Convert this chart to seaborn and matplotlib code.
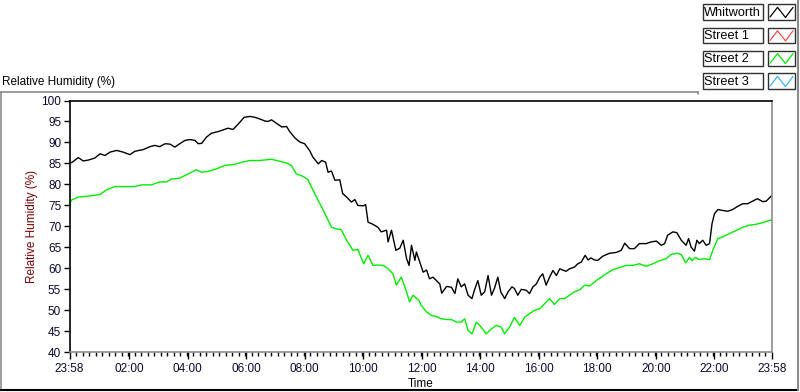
import numpy as np
import pandas as pd
import matplotlib
matplotlib.use("Agg")
import matplotlib.pyplot as plt
from matplotlib.lines import Line2D
from matplotlib.patches import Rectangle
import seaborn as sns

# ---------------- data (minutes after 23:58, relative humidity %) ----------------
whit_t = [0, 4.5, 18, 28, 38.5, 52, 62.5, 72.7, 83, 96.7, 110, 124, 134, 151, 165, 175, 185,
          196, 206, 216, 226, 237, 247, 257, 264, 271, 281, 291, 305, 315, 325, 335, 346, 358,
          370, 380, 390, 401, 407, 414, 424, 435, 445, 452, 462, 472, 482, 492, 499, 510, 517,
          525, 530, 537, 544, 554, 560, 568, 578, 585, 591, 602, 607, 612, 622, 632, 639, 650,
          653, 660, 669, 677, 684, 691, 696, 701, 708, 711, 718, 725, 732, 738, 745, 752, 759,
          763, 773, 783, 790, 796, 803, 810, 817, 825, 830, 837, 844, 851, 858, 865, 871, 878,
          884, 892, 899, 907, 912, 919, 926, 936, 943, 950, 957, 964, 970, 977, 984, 991, 998,
          1005, 1011, 1018, 1025, 1035, 1042, 1049, 1057, 1063, 1069, 1076, 1083, 1093, 1107,
          1121, 1131, 1138, 1148, 1158, 1168, 1182, 1192, 1203, 1213, 1220, 1226, 1237, 1245,
          1254, 1264, 1269, 1274, 1281, 1286, 1291, 1298, 1305, 1312, 1317, 1322, 1329, 1339,
          1349, 1359, 1370, 1380, 1390, 1400, 1410, 1421, 1428, 1440]
whit_v = [85.3, 85.2, 86.4, 85.6, 85.8, 86.3, 87.3, 86.9, 87.7, 88.1, 87.7, 87.1, 87.9, 88.3,
          89.0, 89.3, 89.0, 89.7, 89.6, 88.9, 89.7, 90.5, 90.7, 90.5, 89.7, 89.8, 91.3, 92.2,
          92.6, 93.0, 93.4, 93.1, 94.4, 96.0, 96.2, 96.0, 95.6, 95.1, 95.0, 95.4, 94.6, 93.7,
          93.8, 92.5, 91.1, 90.1, 89.7, 88.1, 86.5, 84.9, 85.7, 85.3, 82.9, 83.2, 81.0, 81.1,
          77.8, 77.0, 75.8, 76.4, 75.0, 74.9, 75.2, 71.0, 70.5, 69.8, 68.7, 69.1, 66.3, 69.1,
          64.3, 64.8, 66.7, 62.3, 60.7, 65.5, 61.9, 63.9, 61.5, 59.1, 59.6, 57.5, 57.9, 57.1,
          56.3, 54.1, 55.7, 55.5, 54.0, 57.5, 55.6, 56.3, 53.6, 52.8, 54.8, 57.1, 53.6, 54.4,
          58.3, 53.6, 55.2, 57.9, 54.4, 52.8, 54.4, 55.6, 55.2, 53.6, 55.0, 54.8, 54.0, 55.6,
          56.3, 57.9, 58.7, 56.0, 57.9, 59.5, 58.3, 59.9, 59.6, 59.3, 59.9, 60.3, 61.1, 61.5,
          63.1, 62.0, 62.5, 62.0, 61.9, 62.9, 63.6, 63.8, 64.3, 66.0, 64.7, 64.7, 65.9, 65.9,
          66.3, 66.5, 65.5, 65.9, 67.9, 68.7, 68.5, 66.7, 65.5, 67.1, 65.1, 64.1, 66.7, 65.9,
          66.7, 65.5, 65.9, 70.6, 73.0, 74.0, 73.8, 73.6, 74.0, 74.8, 75.4, 75.4, 76.0, 76.6,
          75.9, 76.0, 77.4]

st2_t = [0, 4.5, 18, 38.5, 62.5, 76, 93, 123, 134, 148, 168, 185, 199, 209, 226, 243, 260,
         271, 284, 301, 318, 339, 353, 370, 390, 414, 428, 445, 455, 465, 479, 489, 496, 506,
         517, 527, 537, 547, 557, 568, 581, 591, 603, 612, 622, 632, 643, 653, 663, 670, 680,
         691, 697, 704, 716, 721, 732, 742, 752, 762, 773, 783, 793, 803, 810, 817, 825, 834,
         844, 854, 865, 875, 885, 892, 902, 912, 923, 933, 943, 953, 964, 974, 984, 994, 1005,
         1015, 1025, 1035, 1046, 1056, 1066, 1080, 1090, 1100, 1114, 1127, 1141, 1155, 1168,
         1182, 1196, 1209, 1223, 1233, 1245, 1254, 1263, 1271, 1276, 1283, 1291, 1302, 1312,
         1320, 1329, 1339, 1353, 1366, 1380, 1394, 1407, 1421, 1440]
st2_v = [75.4, 76.3, 77.0, 77.2, 77.6, 78.7, 79.5, 79.5, 79.5, 79.9, 79.9, 80.6, 80.6, 81.3,
         81.5, 82.5, 83.5, 82.9, 83.1, 83.7, 84.5, 84.8, 85.3, 85.7, 85.7, 86.0, 85.6, 85.1,
         84.5, 82.5, 81.9, 81.1, 79.4, 77.0, 74.6, 72.2, 69.8, 69.4, 69.2, 66.7, 64.3, 64.5,
         61.1, 63.1, 60.7, 60.8, 60.7, 59.9, 58.7, 56.0, 57.9, 54.4, 52.0, 53.6, 52.4, 51.2,
         49.6, 48.8, 48.5, 48.0, 47.8, 47.8, 47.2, 47.2, 48.0, 45.2, 44.4, 47.2, 46.0, 44.4,
         45.6, 46.4, 46.0, 44.4, 46.0, 48.3, 46.4, 48.4, 49.2, 50.0, 50.4, 51.6, 52.8, 51.4,
         52.8, 52.8, 53.6, 54.4, 54.9, 56.0, 55.8, 57.1, 57.9, 58.7, 59.7, 60.2, 60.7, 60.7,
         61.1, 60.5, 61.1, 61.8, 62.3, 63.3, 63.6, 63.3, 61.3, 62.6, 61.8, 62.6, 62.1, 62.3,
         62.1, 64.7, 67.1, 67.5, 68.3, 69.0, 69.8, 70.3, 70.5, 70.9, 71.6]

# Street 1 and Street 3 have no visible data in the chart
st1_t, st1_v = [], []
st3_t, st3_v = [], []

series_names = ["Whitworth", "Street 1", "Street 2", "Street 3"]
series_colors = ["#000000", "#ff4a4a", "#00ee00", "#3ab4f2"]

tick_pos = [0, 122, 242, 362, 482, 602, 722, 842, 962, 1082, 1202, 1322, 1440]
tick_labels = ["23:58", "02:00", "04:00", "06:00", "08:00", "10:00", "12:00", "14:00",
               "16:00", "18:00", "20:00", "22:00", "23:58"]
y_ticks = list(range(40, 101, 5))

# ---------------- build long table ----------------
frames = []
for name, t, v in [("Whitworth", whit_t, whit_v), ("Street 1", st1_t, st1_v),
                   ("Street 2", st2_t, st2_v), ("Street 3", st3_t, st3_v)]:
    if len(t):
        frames.append(pd.DataFrame({"Time": t, "RH": v, "Series": name}))
df = pd.concat(frames, ignore_index=True)

sns.set_style("white")
plt.rcParams["font.family"] = ["Liberation Sans", "DejaVu Sans"]

W, H = 800, 392
fig = plt.figure(figsize=(W / 100, H / 100), dpi=100)

def fx(px):
    return px / W

def fy(py):
    return 1 - py / H

AX_L, AX_R = 69.5, 772
ax = fig.add_axes([fx(AX_L), fy(352.3), fx(AX_R) - fx(AX_L), fy(100.5) - fy(352.3)])

palette = dict(zip(series_names, series_colors))
sns.lineplot(data=df, x="Time", y="RH", hue="Series", palette=palette, ax=ax,
             linewidth=1.0, legend=False, estimator=None, sort=False)

ax.set_xlim(0, 1440)
ax.set_ylim(40, 100)
ax.set_yticks(y_ticks)
ax.set_yticklabels([str(v) for v in y_ticks])
ax.set_xticks(tick_pos)
ax.set_xticklabels(tick_labels)
ax.set_xticks(np.linspace(0, 1440, 109), minor=True)

lab_col = "#0a0a30"
ax.tick_params(axis="y", which="major", direction="out", length=4, width=1, color="black",
               labelsize=8.5, labelcolor=lab_col, pad=2, left=True)
ax.tick_params(axis="x", which="major", direction="out", length=5, width=1, color="black",
               labelsize=8.5, labelcolor=lab_col, pad=3, bottom=True)
ax.tick_params(axis="x", which="minor", direction="out", length=3, width=1, color="black",
               bottom=True)

for side in ["left", "top"]:
    ax.spines[side].set_color("black")
    ax.spines[side].set_linewidth(1.2)
for side in ["right", "bottom"]:
    ax.spines[side].set_color("#8c8c8c")
    ax.spines[side].set_linewidth(1.2)
ax.grid(False)

ax.set_xlabel("Time", fontsize=8.5, color="black", labelpad=2)
ax.set_ylabel("Relative Humidity (%)", fontsize=8.5, color="#7a0000")
ax.yaxis.set_label_coords((38 - AX_L) / (AX_R - AX_L), 0.5)

# title
fig.text(fx(2), fy(82), "Relative Humidity (%)", fontsize=8.5, color="black",
         ha="left", va="center")

# outer frame lines
frame_col = "#8c8c8c"
fig.add_artist(Line2D([fx(0), fx(698)], [fy(92), fy(92)], color=frame_col, lw=1.2))
fig.add_artist(Line2D([fx(698), fx(698)], [fy(92), fy(94)], color=frame_col, lw=1.2))
fig.add_artist(Line2D([fx(1), fx(1)], [fy(92), fy(390)], color=frame_col, lw=1.2))
fig.add_artist(Line2D([fx(0), fx(798)], [fy(390), fy(390)], color="black", lw=1.5))
fig.add_artist(Line2D([fx(798), fx(798)], [fy(0), fy(390)], color=frame_col, lw=1.5))

# legend (LabVIEW style boxes)
row_tops = [4.3, 27.7, 50.5, 73.3]
row_h = 15.5
for name, col, top in zip(series_names, series_colors, row_tops):
    fig.add_artist(Rectangle((fx(702.5), fy(top + row_h)), fx(762.5) - fx(702.5),
                             fy(top) - fy(top + row_h), fill=False, ec="#303030", lw=1.0))
    fig.text(fx(704), fy(top + row_h / 2 + 0.5), name, fontsize=9.2, color="black",
             ha="left", va="center")
    fig.add_artist(Rectangle((fx(767.5), fy(top + row_h)), fx(795) - fx(767.5),
                             fy(top) - fy(top + row_h), fill=False, ec="#303030", lw=1.0))
    xs = [770, 777.5, 785.5, 793]
    ys = [top + row_h * 0.82, top + row_h * 0.2, top + row_h * 0.85, top + row_h * 0.2]
    fig.add_artist(Line2D([fx(v) for v in xs], [fy(v) for v in ys], color=col, lw=0.9))

fig.savefig("out.png", dpi=100)
